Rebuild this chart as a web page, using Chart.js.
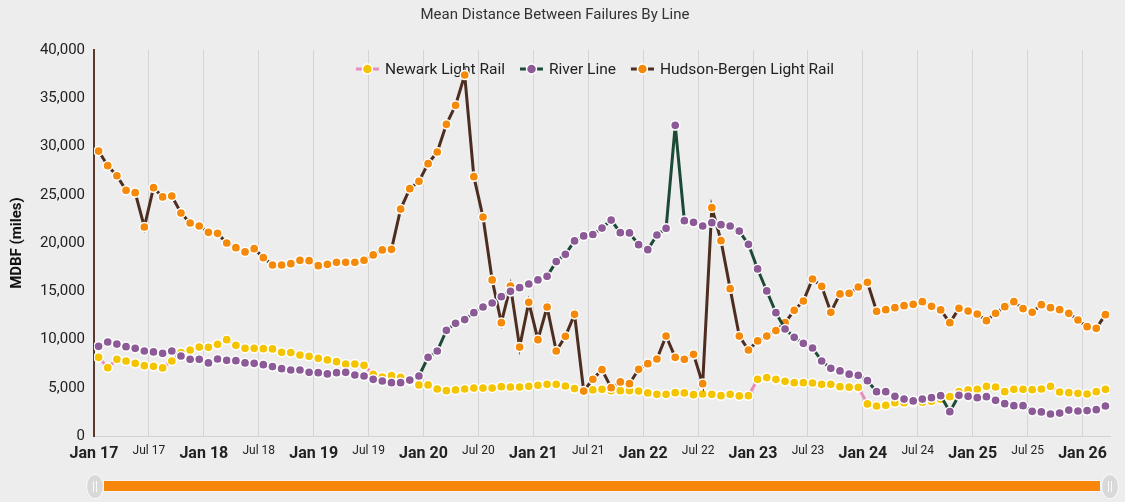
<!DOCTYPE html>
<html>
<head>
<meta charset="utf-8">
<title>Mean Distance Between Failures By Line</title>
<script src="https://cdn.jsdelivr.net/npm/chart.js@4"></script>
<style>
  html, body { margin: 0; padding: 0; background: #ededed; }
  #wrap { position: relative; width: 1125px; height: 502px; font-family: Roboto, sans-serif; }
  #box { position: absolute; left: 0; top: 0; width: 1125px; height: 470px; }
  .track { position: absolute; left: 103px; top: 480px; width: 998px; height: 12px;
           background: #f7860a; border: 1px solid #f4f4f4; box-sizing: border-box; }
  .handle { position: absolute; top: 474px; width: 18px; height: 25px; border-radius: 50%;
            background: #d9d9d9; border: 1px solid #fafafa; box-sizing: border-box; }
  .handle::before, .handle::after { content: ""; position: absolute; top: 6px; width: 1px; height: 11px; background: #fafafa; }
  .handle::before { left: 6px; }
  .handle::after { left: 9px; }
</style>
</head>
<body>
<div id="wrap">
  <div id="box"><canvas id="chart"></canvas></div>
  <div class="track"></div>
  <div class="handle" style="left:86px"></div>
  <div class="handle" style="left:1101px"></div>
</div>
<script>
// monthly values, Jan 2017 .. Mar 2026 (miles between failures)
const newark = [
  8150, 7080, 7950, 7770, 7530, 7290, 7220, 7050, 7770, 8640, 8910, 9220,
  9190, 9500, 9980, 9400, 9090, 9090, 9050, 9020, 8670, 8640, 8390, 8260,
  8050, 7880, 7700, 7460, 7460, 7320, 6390, 6100, 6250, 6080, 5700, 5290,
  5290, 4870, 4700, 4770, 4870, 4970, 4970, 4970, 5110, 5080, 5080, 5150,
  5250, 5350, 5350, 5180, 4910, 4770, 4770, 4840, 4700, 4700, 4700, 4660,
  4460, 4320, 4320, 4490, 4460, 4280, 4350, 4320, 4180, 4320, 4150, 4180,
  5870, 6050, 5870, 5670, 5530, 5530, 5490, 5350, 5350, 5110, 5060, 5040,
  3320, 3110, 3180, 3450, 3450, 3500, 3500, 3600, 3800, 4080, 4590, 4770,
  4840, 5150, 5080, 4590, 4840, 4840, 4800, 4870, 5150, 4560, 4490, 4420,
  4350, 4590, 4840
];
const riverLine = [
  9290, 9740, 9530, 9260, 9090, 8810, 8710, 8570, 8810, 8290, 7950, 7950,
  7570, 7980, 7840, 7810, 7570, 7530, 7390, 7190, 6980, 6840, 6840, 6600,
  6560, 6430, 6560, 6600, 6320, 6220, 5870, 5700, 5530, 5530, 5800, 6220,
  8150, 8810, 10950, 11680, 12060, 12780, 13370, 13780, 14440, 14990, 15370, 15750,
  16170, 16550, 18070, 18830, 20210, 20730, 20880, 21550, 22380, 21070, 21040, 19830,
  19310, 20830, 21520, 32190, 22310, 22140, 21760, 22110, 21900, 21760, 21240, 19860,
  17310, 15030, 12780, 11090, 10230, 9600, 9120, 7770, 7010, 6740, 6410, 6290,
  5730, 4590, 4590, 4110, 3830, 3630, 3830, 3970, 4180, 2520, 4210, 4110,
  3970, 4080, 3700, 3350, 3140, 3140, 2560, 2490, 2280, 2380, 2690, 2590,
  2630, 2730, 3110
];
const hudsonBergen = [
  29530, 28010, 26970, 25460, 25210, 21660, 25730, 24770, 24870, 23110, 22070, 21760,
  21110, 21000, 20000, 19520, 19070, 19410, 18480, 17720, 17720, 17860, 18200, 18170,
  17650, 17790, 18000, 18000, 18000, 18210, 18760, 19280, 19340, 23520, 25630, 26390,
  28220, 29430, 32300, 34270, 37410, 26870, 22690, 16170, 11740, 15540, 9220, 13850,
  9980, 13370, 8810, 10330, 12610, 4660, 5880, 6870, 5010, 5600, 5420, 6910,
  7500, 7980, 10360, 8150, 7950, 8460, 5420, 23660, 20240, 15270, 10360, 8910,
  9850, 10360, 10920, 11740, 13020, 13990, 16270, 15510, 12820, 14720, 14780, 15440,
  15920, 12920, 13090, 13300, 13510, 13640, 13920, 13440, 13060, 11740, 13230, 12950,
  12640, 11950, 12710, 13400, 13920, 13200, 12820, 13610, 13300, 13090, 12710, 12020,
  11330, 11160, 12570
];
// one tick every six months, starting Jan 2017
const tickLabels = [
  'Jan 17', 'Jul 17', 'Jan 18', 'Jul 18', 'Jan 19', 'Jul 19', 'Jan 20', 'Jul 20',
  'Jan 21', 'Jul 21', 'Jan 22', 'Jul 22', 'Jan 23', 'Jul 23', 'Jan 24', 'Jul 24',
  'Jan 25', 'Jul 25', 'Jan 26'
];

const FONT = 'Roboto';

// points sit in the middle of their month
function toPoints(values) {
  return values.map((v, i) => ({ x: i + 0.5, y: v }));
}

function series(label, values, lineColor, dotColor, order) {
  return {
    label: label,
    data: toPoints(values),
    borderColor: lineColor,
    borderWidth: 3,
    pointBackgroundColor: dotColor,
    pointBorderColor: '#ffffff',
    pointBorderWidth: 1.5,
    pointRadius: 4.6,
    pointHoverRadius: 4.6,
    tension: 0,
    order: order
  };
}

// legend drawn inside the plot, line-dot-line swatch like the original
const lineLegend = {
  id: 'lineLegend',
  beforeDatasetsDraw(chart) {
    const c = chart.ctx;
    const sets = chart.data.datasets;
    c.save();
    c.font = '15.5px ' + FONT;
    c.textBaseline = 'middle';
    const widths = sets.map(d => 29 + c.measureText(d.label).width);
    const total = widths.reduce((a, b) => a + b, 0) + 15 * (sets.length - 1);
    let x = 595 - total / 2;
    const y = 69;
    sets.forEach((d, i) => {
      c.strokeStyle = d.borderColor;
      c.lineWidth = 3;
      c.beginPath();
      c.moveTo(x, y); c.lineTo(x + 6, y);
      c.moveTo(x + 17, y); c.lineTo(x + 23, y);
      c.stroke();
      c.beginPath();
      c.arc(x + 11.5, y, 5, 0, Math.PI * 2);
      c.fillStyle = d.pointBackgroundColor;
      c.fill();
      c.lineWidth = 1.5;
      c.strokeStyle = '#ffffff';
      c.stroke();
      c.fillStyle = '#222222';
      c.fillText(d.label, x + 29, y + 1);
      x += widths[i] + 15;
    });
    c.restore();
  }
};

new Chart(document.getElementById('chart'), {
  type: 'line',
  data: {
    datasets: [
      series('Newark Light Rail', newark, '#e98bbd', '#f5c400', 3),
      series('River Line', riverLine, '#1d4a37', '#8b5a97', 1),
      series('Hudson-Bergen Light Rail', hudsonBergen, '#4d2d20', '#f5890a', 2)
    ]
  },
  plugins: [lineLegend],
  options: {
    responsive: true,
    maintainAspectRatio: false,
    animation: false,
    layout: { padding: { left: 0, right: 15, top: 0, bottom: 0 } },
    plugins: {
      legend: { display: false },
      tooltip: { enabled: false },
      title: {
        display: true,
        text: 'Mean Distance Between Failures By Line',
        color: '#333333',
        font: { family: FONT, size: 15, weight: 'normal' },
        padding: { top: 6, bottom: 26 }
      }
    },
    scales: {
      x: {
        type: 'linear',
        min: 0,
        max: 111,
        afterBuildTicks: s => { s.ticks = tickLabels.map((_, i) => ({ value: i * 6 })); },
        afterFit: s => { s.height = 34; },
        ticks: {
          autoSkip: false,
          maxRotation: 0,
          padding: 8,
          color: '#222222',
          callback: (v, i) => tickLabels[i],
          font: c => c.index % 2 === 0
            ? { family: FONT, size: 16, weight: 'bold' }
            : { family: FONT, size: 12, weight: 'normal' }
        },
        grid: { color: '#d5d5d5', lineWidth: 1, drawTicks: false },
        border: { color: '#d2d2d2', width: 1 }
      },
      y: {
        min: 0,
        max: 40000,
        afterFit: s => { s.width = 94; },
        ticks: {
          stepSize: 5000,
          padding: 9,
          color: '#222222',
          font: { family: FONT, size: 15 },
          callback: v => v.toLocaleString('en-US')
        },
        grid: { display: false, drawTicks: false },
        border: { display: true, color: '#5b3a2b', width: 2 },
        title: {
          display: true,
          text: 'MDBF (miles)',
          color: '#111111',
          font: { family: FONT, size: 15, weight: 'bold' },
          padding: { top: 8, bottom: 0 }
        }
      }
    }
  }
});
</script>
</body>
</html>
